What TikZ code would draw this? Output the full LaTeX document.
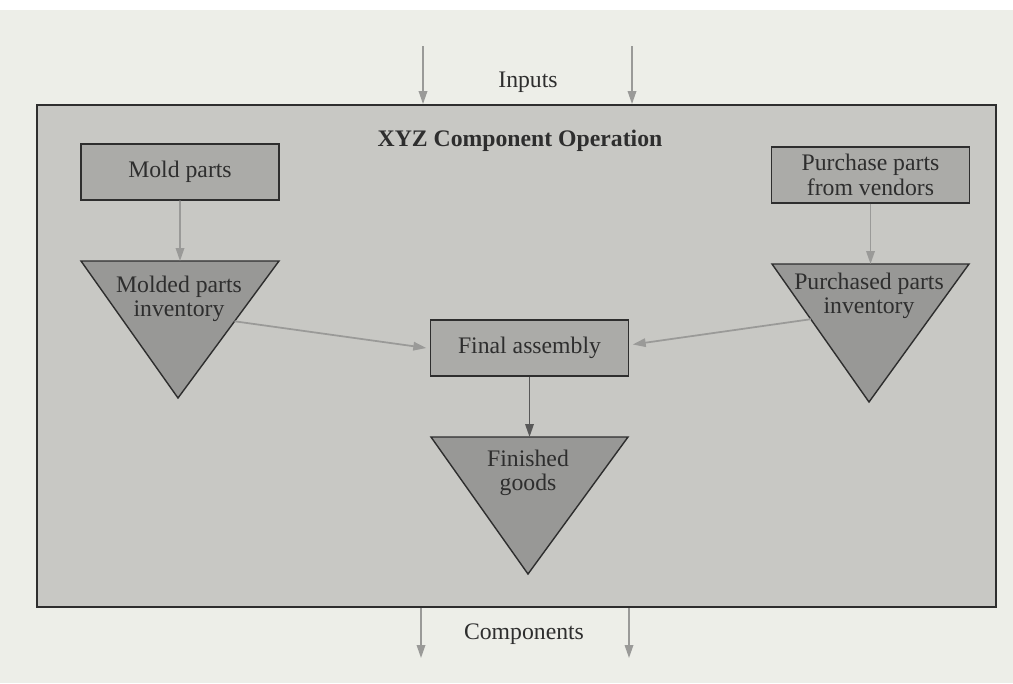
\documentclass[tikz,border=0pt]{standalone}
\usepackage{fontspec}
\setmainfont{Liberation Serif}
\usetikzlibrary{arrows.meta,calc}

\definecolor{paper}{HTML}{EDEEE8}
\definecolor{panel}{HTML}{C8C8C4}
\definecolor{boxgray}{HTML}{ABABA8}
\definecolor{stockgray}{HTML}{989896}
\definecolor{ink}{HTML}{2E2E2E}
\definecolor{wire}{HTML}{9A9A98}

\begin{document}
\begin{tikzpicture}[x=0.02cm,y=-0.02cm,
	every node/.style={font=\fontsize{13.5}{14}\selectfont, text=ink, align=center},
	stepbox/.style={draw=ink, fill=boxgray, line width=0.8pt, minimum width=3.96cm, minimum height=1.12cm, inner sep=0pt},
	stock/.style={draw=ink, fill=stockgray, line width=0.8pt},
	flow/.style={draw=wire, line width=1pt, -{Triangle[length=2.6mm,width=1.7mm]}}]
	% page
	\fill[white] (0,0) rectangle (1013,683);
	\fill[paper] (0,10) rectangle (1013,683);
	\useasboundingbox (0,0) rectangle (1013,683);

	% the operation as one big panel
	\node (xyz) [draw=ink, fill=panel, line width=1.1pt, minimum width=19.18cm, minimum height=10.04cm] at (516.5,356) {};
	\node (title) at (520,141) {\bfseries XYZ Component Operation};

	% inputs and outputs
	\coordinate (in1) at (423,46);
	\coordinate (in2) at (632,46);
	\node (inputs) at (528,82) {Inputs};
	\draw[flow] (in1) -- (in1 |- xyz.north);
	\draw[flow] (in2) -- (in2 |- xyz.north);

	\coordinate (out1) at (421,658);
	\coordinate (out2) at (629,658);
	\node (components) at (524,634) {Components};
	\draw[flow] (out1 |- xyz.south) -- (out1);
	\draw[flow] (out2 |- xyz.south) -- (out2);

	% process steps
	\node (mold) [stepbox] at (180,172) {Mold parts};
	\node (purchase) [stepbox] at (870.5,175) {Purchase parts\\from vendors};
	\node (final) [stepbox] at (529.5,348) {Final assembly};

	% inventories (upside-down triangles)
	\coordinate (mpi nw) at (81,261);
	\coordinate (mpi ne) at (279,261);
	\coordinate (mpi tip) at (178,398);
	\draw[stock] (mpi nw) -- (mpi ne) -- (mpi tip) -- cycle;
	\node (mpi) at (179,299) {Molded parts\\inventory};

	\coordinate (ppi nw) at (772,264);
	\coordinate (ppi ne) at (969,264);
	\coordinate (ppi tip) at (869,402);
	\draw[stock] (ppi nw) -- (ppi ne) -- (ppi tip) -- cycle;
	\node (ppi) at (869,296) {Purchased parts\\inventory};

	\coordinate (fg nw) at (431,437);
	\coordinate (fg ne) at (628,437);
	\coordinate (fg tip) at (528,574);
	\draw[stock] (fg nw) -- (fg ne) -- (fg tip) -- cycle;
	\node (fg) at (528,473) {Finished\\goods};

	% flows between them
	\draw[flow] (mold.south) -- ($(mpi nw)!0.5!(mpi ne)$);
	\draw[flow] (purchase.south) -- ($(ppi nw)!0.5!(ppi ne)$);
	\coordinate (mpi out) at ($(mpi ne)!0.44!(mpi tip)$);
	\coordinate (ppi out) at ($(ppi nw)!0.4!(ppi tip)$);
	\draw[flow] (mpi out) -- ([xshift=-2pt]final.west);
	\draw[flow] (ppi out) -- ([xshift=2pt,yshift=2pt]final.east);
	\draw[flow, draw=ink!80] (final.south) -- ($(fg nw)!0.5!(fg ne)$);
\end{tikzpicture}
\end{document}
